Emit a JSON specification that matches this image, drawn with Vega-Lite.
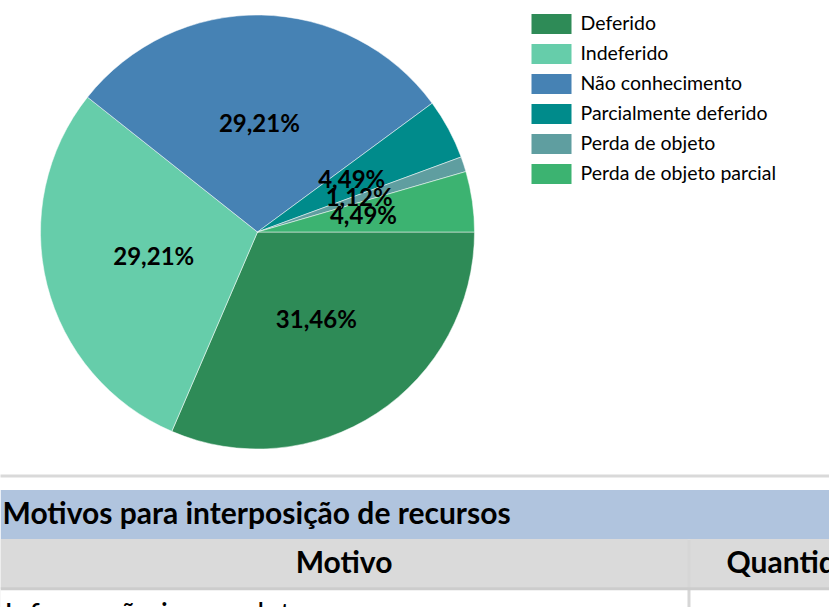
{
  "$schema": "https://vega.github.io/schema/vega-lite/v6.json",
  "padding": {"left": -1.5, "top": 0, "right": 0, "bottom": 0},
  "background": "white",
  "spacing": 10,
  "config": {"font": "Lato", "view": {"stroke": null}},
  "resolve": {"scale": {"color": "independent"}, "legend": {"color": "independent"}},
  "datasets": {
    "pizza": [
      {"motivo": "Deferido", "quantidade": 28, "rotulo": "31,46%"},
      {"motivo": "Indeferido", "quantidade": 26, "rotulo": "29,21%"},
      {"motivo": "Não conhecimento", "quantidade": 26, "rotulo": "29,21%"},
      {"motivo": "Parcialmente deferido", "quantidade": 4, "rotulo": "4,49%"},
      {"motivo": "Perda de objeto", "quantidade": 1, "rotulo": "1,12%"},
      {"motivo": "Perda de objeto parcial", "quantidade": 4, "rotulo": "4,49%"}
    ],
    "tabela": [
      {"linha": "titulo", "coluna": "Motivo", "texto": "Motivos para interposição de recursos"},
      {"linha": "cabecalho", "coluna": "Motivo", "texto": "Motivo"},
      {"linha": "cabecalho", "coluna": "Quantidade", "texto": "Quantidade"},
      {"linha": "linha1", "coluna": "Motivo", "texto": "Informação incompleta"},
      {"linha": "linha1", "coluna": "Quantidade", "texto": ""}
    ]
  },
  "vconcat": [
    {
      "width": 514,
      "height": 464,
      "data": {"name": "pizza"},
      "encoding": {
        "theta": {"field": "quantidade", "type": "quantitative", "stack": true, "scale": {"range": [1.5708, 7.854]}},
        "order": {"field": "motivo", "type": "ordinal"},
        "color": {
          "field": "motivo",
          "type": "nominal",
          "scale": {
            "domain": ["Deferido", "Indeferido", "Não conhecimento", "Parcialmente deferido", "Perda de objeto", "Perda de objeto parcial"],
            "range": ["#2E8B57", "#66CDAA", "#4682B4", "#008B8B", "#5F9EA0", "#3CB371"]
          },
          "legend": {
            "title": null,
            "orient": "none",
            "legendX": 531,
            "legendY": 4,
            "padding": 0,
            "symbolType": "M-1,-0.5H1V0.5H-1Z",
            "symbolSize": 1600,
            "symbolStrokeWidth": 0,
            "symbolOpacity": 1,
            "labelFont": "Lato",
            "labelFontSize": 19.5,
            "labelColor": "black",
            "labelOffset": 9,
            "labelLimit": 400,
            "rowPadding": -5
          }
        }
      },
      "layer": [
        {"mark": {"type": "arc", "outerRadius": 217, "stroke": "white", "strokeWidth": 0.5}},
        {
          "mark": {"type": "text", "radius": 107, "font": "Lato", "fontSize": 24, "fontWeight": "bold"},
          "encoding": {
            "text": {"field": "rotulo", "type": "nominal"},
            "detail": {"field": "motivo", "type": "nominal"},
            "color": {"value": "black"}
          }
        }
      ]
    },
    {
      "width": 829,
      "height": 131,
      "view": {"stroke": "#d9d9d9", "strokeWidth": 3, "strokeDash": [829, 100000]},
      "data": {"name": "tabela"},
      "encoding": {
        "y": {
          "field": "linha",
          "type": "nominal",
          "axis": null,
          "scale": {"domain": ["titulo", "cabecalho", "linha1"], "range": [14, 162], "paddingInner": 0, "paddingOuter": 0}
        }
      },
      "layer": [
        {
          "transform": [{"filter": "datum.linha === 'titulo' && datum.coluna === 'Motivo'"}],
          "mark": {"type": "bar", "color": "#B0C4DE", "clip": true}
        },
        {
          "transform": [{"filter": "datum.linha !== 'titulo' && datum.coluna === 'Motivo'"}],
          "mark": {"type": "bar", "color": "#d6d6d6", "clip": true}
        },
        {
          "transform": [{"filter": "datum.linha !== 'titulo'"}],
          "mark": {"type": "rect", "clip": true},
          "encoding": {
            "x": {
              "field": "coluna",
              "type": "nominal",
              "axis": null,
              "scale": {"domain": ["Motivo", "Quantidade"], "range": [0, 1377], "paddingInner": 0.00435, "paddingOuter": 0}
            },
            "color": {
              "field": "linha",
              "type": "nominal",
              "legend": null,
              "scale": {"domain": ["cabecalho", "linha1"], "range": ["#dadada", "#ffffff"]}
            }
          }
        },
        {
          "transform": [{"filter": "datum.linha === 'linha1' && datum.coluna === 'Motivo'"}],
          "mark": {"type": "rule", "color": "#cccccc", "strokeWidth": 3, "clip": true},
          "encoding": {"y": {"field": "linha", "type": "nominal", "bandPosition": 0}}
        },
        {
          "transform": [{"filter": "datum.linha === 'titulo'"}],
          "mark": {"type": "text", "align": "left", "dx": 2, "font": "Lato", "fontSize": 30, "fontWeight": "bold", "color": "black", "clip": true},
          "encoding": {
            "x": {"field": "coluna", "type": "nominal", "bandPosition": 0},
            "text": {"field": "texto", "type": "nominal"}
          }
        },
        {
          "transform": [{"filter": "datum.linha === 'cabecalho' && datum.coluna === 'Motivo'"}],
          "mark": {"type": "text", "align": "center", "font": "Lato", "fontSize": 30, "fontWeight": "bold", "color": "black", "clip": true},
          "encoding": {
            "x": {"field": "coluna", "type": "nominal", "bandPosition": 0.5},
            "text": {"field": "texto", "type": "nominal"}
          }
        },
        {
          "transform": [{"filter": "datum.linha === 'cabecalho' && datum.coluna === 'Quantidade'"}],
          "mark": {"type": "text", "align": "left", "dx": 36, "font": "Lato", "fontSize": 30, "fontWeight": "bold", "color": "black", "clip": true},
          "encoding": {
            "x": {"field": "coluna", "type": "nominal", "bandPosition": 0},
            "text": {"field": "texto", "type": "nominal"}
          }
        },
        {
          "transform": [{"filter": "datum.linha === 'linha1' && datum.coluna === 'Motivo'"}],
          "mark": {"type": "text", "align": "left", "dx": 4, "dy": 3, "font": "Lato", "fontSize": 30, "color": "black", "clip": true},
          "encoding": {
            "x": {"field": "coluna", "type": "nominal", "bandPosition": 0},
            "text": {"field": "texto", "type": "nominal"}
          }
        }
      ]
    }
  ]
}
